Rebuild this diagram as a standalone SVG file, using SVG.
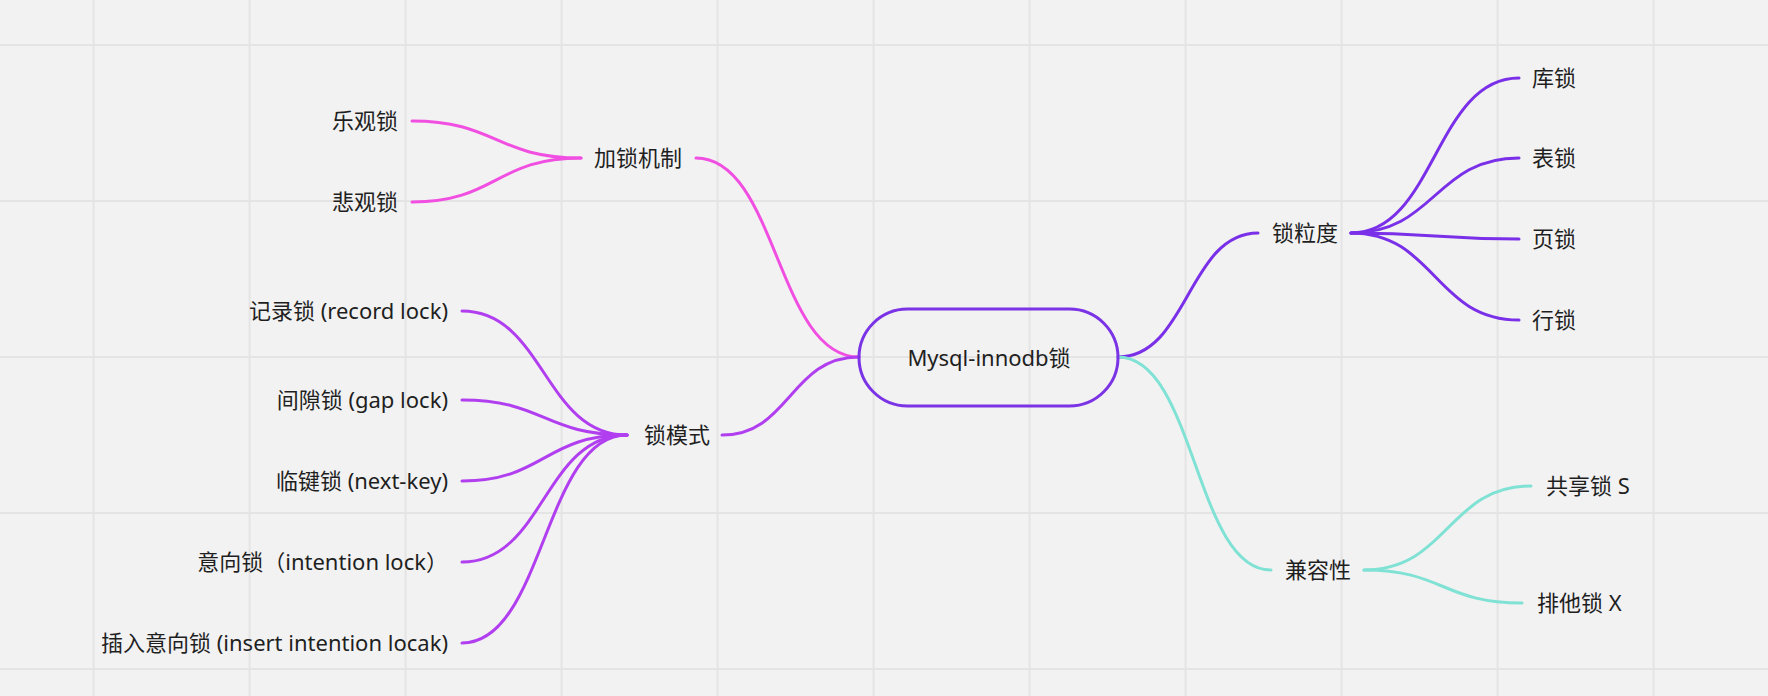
<svg xmlns="http://www.w3.org/2000/svg" width="1768" height="696" viewBox="0 0 1768 696">
<style>
.t{font-family:"Noto Sans","Noto Sans CJK SC",sans-serif;font-size:22px;fill:#1f1f1f}
.e{text-anchor:end}
.m{text-anchor:middle}
.c{fill:none;stroke-width:3;stroke-linecap:round}
.pk{stroke:#f04fe1}
.pu{stroke:#b13ff0}
.vi{stroke:#7a30e8}
.te{stroke:#7fe2d4}
.g{stroke:#e4e4e4;stroke-width:2}
</style>
<rect width="1768" height="696" fill="#f2f2f2"/>
<g id="grid" class="g">
<line x1="93.6" y1="0" x2="93.6" y2="696"/><line x1="249.6" y1="0" x2="249.6" y2="696"/><line x1="405.6" y1="0" x2="405.6" y2="696"/><line x1="561.6" y1="0" x2="561.6" y2="696"/><line x1="717.6" y1="0" x2="717.6" y2="696"/><line x1="873.6" y1="0" x2="873.6" y2="696"/><line x1="1029.6" y1="0" x2="1029.6" y2="696"/><line x1="1185.6" y1="0" x2="1185.6" y2="696"/><line x1="1341.6" y1="0" x2="1341.6" y2="696"/><line x1="1497.6" y1="0" x2="1497.6" y2="696"/><line x1="1653.6" y1="0" x2="1653.6" y2="696"/>
<line x1="0" y1="45" x2="1768" y2="45"/><line x1="0" y1="201" x2="1768" y2="201"/><line x1="0" y1="357" x2="1768" y2="357"/><line x1="0" y1="513" x2="1768" y2="513"/><line x1="0" y1="669" x2="1768" y2="669"/>
</g>
<g id="connectors">
<path class="c pk" d="M859,357 C777,357 777,158 696,158"/>
<path class="c pk" d="M581,158 C496,158 496,121 412,121"/>
<path class="c pk" d="M581,158 C496,158 496,202 412,202"/>
<path class="c pu" d="M859,357 C790,357 790,435 722,435"/>
<path class="c pu" d="M627,435 C544,435 544,311 462,311"/>
<path class="c pu" d="M627,435 C544,435 544,400 462,400"/>
<path class="c pu" d="M627,435 C544,435 544,481 462,481"/>
<path class="c pu" d="M627,435 C544,435 544,562 462,562"/>
<path class="c pu" d="M627,435 C544,435 544,643 462,643"/>
<path class="c vi" d="M1118,357 C1188,357 1188,233 1258,233"/>
<path class="c vi" d="M1351,233 C1435,233 1435,78 1519,78"/>
<path class="c vi" d="M1351,233 C1435,233 1435,158 1519,158"/>
<path class="c vi" d="M1351,233 C1435,233 1435,239 1519,239"/>
<path class="c vi" d="M1351,233 C1435,233 1435,320 1519,320"/>
<path class="c te" d="M1118,357 C1195,357 1195,570 1271,570"/>
<path class="c te" d="M1364,570 C1448,570 1448,486 1531,486"/>
<path class="c te" d="M1364,570 C1443,570 1443,603 1522,603"/>
</g>
<g id="root">
<rect x="859" y="309" width="259" height="97" rx="48.5" fill="none" stroke="#7b33e6" stroke-width="3"/>
<text class="t m" x="989" y="366">Mysql-innodb锁</text>
</g>
<g id="n-jiasuo"><text class="t" x="594" y="166">加锁机制</text></g>
<g id="n-leguan"><text class="t e" x="398" y="129">乐观锁</text></g>
<g id="n-beiguan"><text class="t e" x="398" y="210">悲观锁</text></g>
<g id="n-moshi"><text class="t" x="644" y="443">锁模式</text></g>
<g id="n-record"><text class="t e" x="448" y="319">记录锁 (record lock)</text></g>
<g id="n-gap"><text class="t e" x="448" y="408">间隙锁 (gap lock)</text></g>
<g id="n-nextkey"><text class="t e" x="448" y="489">临键锁 (next-key)</text></g>
<g id="n-intention"><text class="t e" x="448" y="570">意向锁（intention lock）</text></g>
<g id="n-insert"><text class="t e" x="448" y="651">插入意向锁 (insert intention locak)</text></g>
<g id="n-lidu"><text class="t" x="1272" y="241">锁粒度</text></g>
<g id="n-ku"><text class="t" x="1532" y="86">库锁</text></g>
<g id="n-biao"><text class="t" x="1532" y="166">表锁</text></g>
<g id="n-ye"><text class="t" x="1532" y="247">页锁</text></g>
<g id="n-hang"><text class="t" x="1532" y="328">行锁</text></g>
<g id="n-jianrong"><text class="t" x="1285" y="578">兼容性</text></g>
<g id="n-s"><text class="t" x="1546" y="494">共享锁 S</text></g>
<g id="n-x"><text class="t" x="1537" y="611">排他锁 X</text></g>
</svg>
